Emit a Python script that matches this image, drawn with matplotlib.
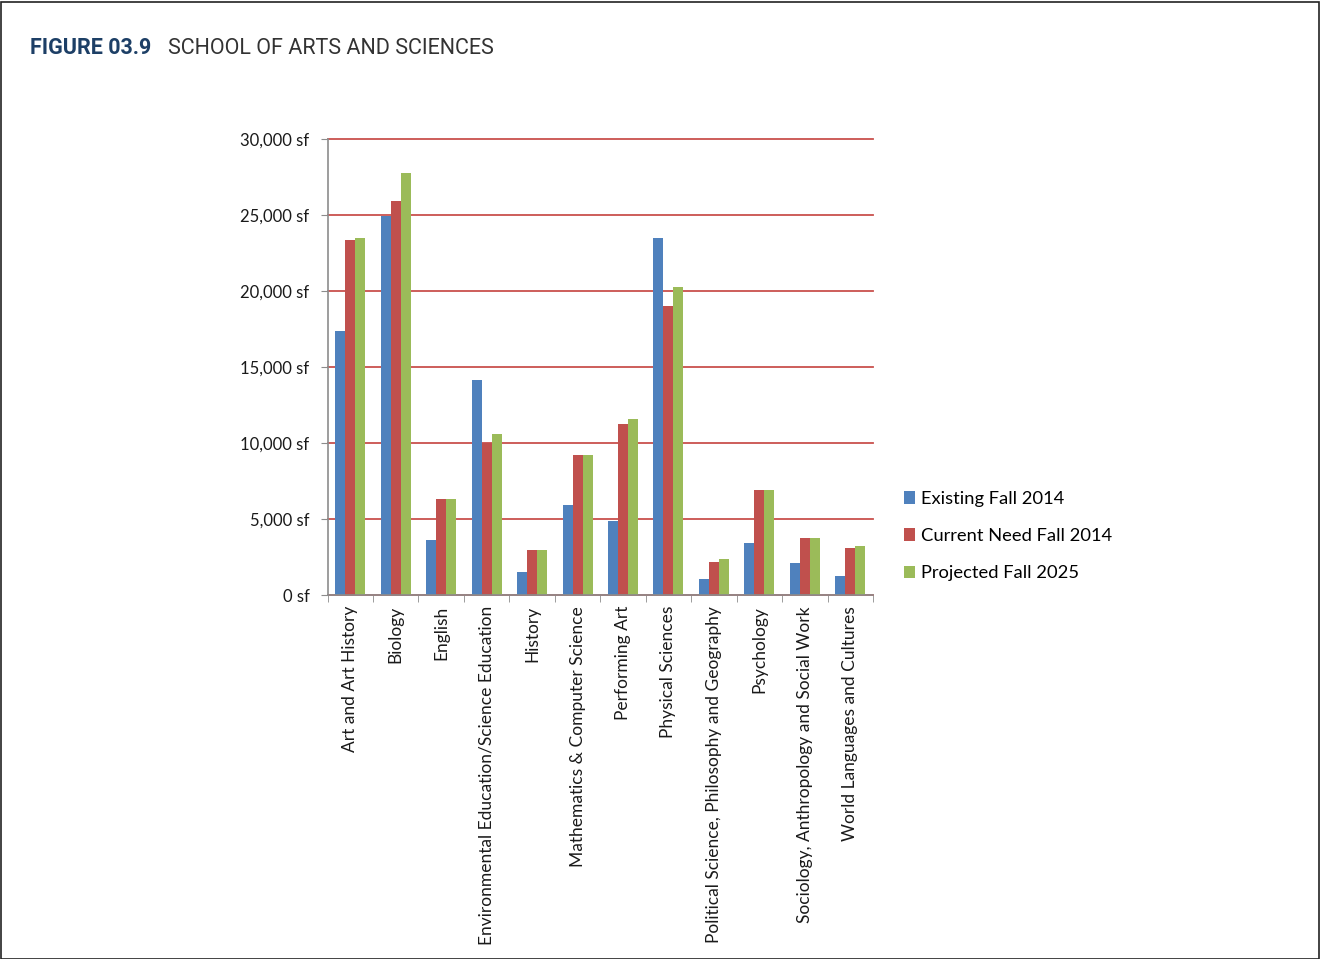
import numpy as np
import matplotlib.pyplot as plt
from matplotlib.patches import Rectangle
from matplotlib.ticker import FuncFormatter

# departments and square footage
departments = ["Art and Art History", "Biology", "English",
               "Environmental Education/Science Education", "History",
               "Mathematics & Computer Science", "Performing Art",
               "Physical Sciences", "Political Science, Philosophy and Geography",
               "Psychology", "Sociology, Anthropology and Social Work",
               "World Languages and Cultures"]
existing_2014 = [17400, 24950, 3620, 14120, 1520, 5930, 4900, 23500, 1030, 3450, 2110, 1270]
need_2014 = [23350, 25920, 6330, 10000, 2940, 9180, 11250, 19000, 2200, 6940, 3780, 3120]
projected_2025 = [23460, 27760, 6330, 10610, 2940, 9180, 11550, 20270, 2350, 6900, 3780, 3250]
series_names = ["Existing Fall 2014", "Current Need Fall 2014", "Projected Fall 2025"]
colors = ["#4F81BD", "#C0504D", "#9BBB59"]

plt.rcParams['font.family'] = ['Lato', 'DejaVu Sans']

fig = plt.figure(figsize=(13.2, 9.59), dpi=100)
ax = fig.add_axes([327.5/1320, 1-595/959, 545.5/1320, 456/959])

x = np.arange(len(departments))
w = 0.22
handles = []
for i, (vals, name, c) in enumerate(zip([existing_2014, need_2014, projected_2025], series_names, colors)):
    b = ax.bar(x + (i-1)*w, vals, width=w, color=c, label=name, zorder=3)
    handles.append(b)

ax.set_xlim(-0.5, len(departments)-0.5)
ax.set_ylim(0, 30000)
ax.set_yticks(np.arange(0, 30001, 5000))
ax.yaxis.set_major_formatter(FuncFormatter(lambda v, p: f"{int(v):,} sf"))
ax.grid(axis='y', color='#C9504D', linewidth=1.3, zorder=1)
for gl in ax.get_ygridlines():
    gl.set_clip_on(False)
ax.set_axisbelow(True)

ax.set_xticks(x)
ax.set_xticklabels(departments, rotation=90, fontsize=12.5, color='#1a1a1a')
ax.set_xticks(np.arange(-0.5, len(departments), 1), minor=True)
ax.tick_params(axis='x', which='major', length=0, pad=8)
ax.tick_params(axis='x', which='minor', length=5, color='#8c8c8c', direction='out')
ax.tick_params(axis='y', length=5, color='#8c8c8c', labelsize=12, labelcolor='#1a1a1a', pad=8)

for s in ['top', 'right']:
    ax.spines[s].set_visible(False)
for s in ['left', 'bottom']:
    ax.spines[s].set_color('#8c8c8c')
    ax.spines[s].set_linewidth(1.2)
    ax.spines[s].set_zorder(4)

fig.legend(handles=handles, loc='center left', bbox_to_anchor=(887/1320, 1-536/959),
           frameon=False, fontsize=13.2, handlelength=0.65, handleheight=0.65,
           handletextpad=0.3, labelspacing=1.15)

# title
fig.text(30/1320, 1-48.5/959, "FIGURE 03.9", fontsize=15.5, fontweight='bold',
         color='#1d3f66', va='center', family=['Roboto', 'DejaVu Sans'])
fig.text(168/1320, 1-48.5/959, "SCHOOL OF ARTS AND SCIENCES", fontsize=15.5,
         color='#333333', va='center', family=['Roboto', 'DejaVu Sans'])

# outer frame
fig.add_artist(Rectangle((1/1320, 0), 1318/1320, 1-2/959, transform=fig.transFigure,
                         fill=False, edgecolor='#222222', linewidth=1.2))

fig.savefig("out.png", dpi=100)
